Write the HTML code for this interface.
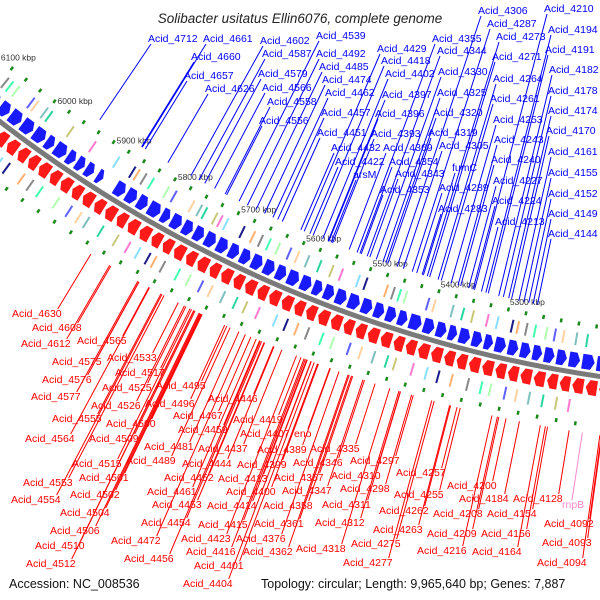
<!DOCTYPE html>
<html><head><meta charset="utf-8"><style>
body{margin:0;background:#fff;}
svg{display:block;font-family:"Liberation Sans",sans-serif;}
</style></head><body>
<svg id="map" width="600" height="600" viewBox="0 0 600 600" xmlns="http://www.w3.org/2000/svg">
<text x="300" y="23" text-anchor="middle" font-size="13.5" font-style="italic" fill="#222">Solibacter usitatus Ellin6076, complete genome</text>
<g id="features"></g>
<g id="lines"></g>
<g id="labels"></g>
<text x="9" y="588" font-size="12.5" fill="#111">Accession: NC_008536</text>
<text x="261" y="588" font-size="12.5" fill="#111">Topology: circular; Length: 9,965,640 bp; Genes: 7,887</text>
</svg>
<script>
const CX=786, CY=-895, R=1285;
const tickKbp=[6100,6000,5900,5800,5700,5600,5500,5400,5300];
const blueGenes=[[6225,6245],[6205,6222],[6185,6202],[6160,6182],[6140,6157],[6118,6137],[6100,6115],[6078,6097],[6060,6075],[6040,6057],[6020,6037],[6000,6017],[5985,5997],[5965,5982],[5950,5962],[5935,5947],[5920,5932],[5905,5914],[5870,5885],[5852,5867],[5835,5849],[5815,5832],[5800,5812],[5782,5797],[5765,5779],[5748,5762],[5730,5745],[5712,5727],[5695,5709],[5678,5692],[5660,5675],[5642,5657],[5625,5639],[5606,5622],[5588,5603],[5572,5585],[5555,5569],[5537,5552],[5518,5534],[5500,5515],[5483,5497],[5466,5480],[5450,5463],[5430,5447],[5412,5427],[5395,5409],[5380,5392],[5362,5377],[5345,5359],[5330,5342],[5312,5327],[5295,5309],[5278,5292],[5262,5275],[5245,5259],[5228,5242],[5210,5225],[5190,5207],[5170,5187]];
const redGenes=[[6225,6245],[6205,6222],[6188,6202],[6168,6185],[6150,6165],[6130,6147],[6112,6127],[6095,6109],[6075,6092],[6058,6072],[6040,6055],[6022,6037],[6005,6019],[5988,6002],[5970,5985],[5953,5967],[5935,5950],[5918,5932],[5900,5915],[5883,5897],[5865,5880],[5848,5862],[5830,5845],[5812,5827],[5795,5809],[5778,5792],[5760,5775],[5743,5757],[5725,5740],[5708,5722],[5690,5705],[5673,5687],[5655,5670],[5638,5652],[5620,5635],[5602,5617],[5585,5599],[5568,5582],[5550,5565],[5532,5547],[5515,5529],[5498,5512],[5480,5495],[5462,5477],[5445,5459],[5428,5442],[5410,5425],[5392,5407],[5375,5389],[5358,5372],[5340,5355],[5322,5337],[5305,5319],[5288,5302],[5270,5285],[5252,5267],[5235,5249],[5218,5232],[5200,5215],[5182,5197],[5165,5179]];
const blueCog=[6205,6190,6172,6160,6148,6130,6118,6090,6082,6071,6045,6038,6022,6014,5978,5941,5902,5876,5869,5858,5846,5822,5810,5782,5770,5762,5746,5738,5729,5704,5688,5676,5664,5650,5633,5621,5606,5588,5570,5556,5531,5520,5490,5480,5471,5462,5430,5421,5395,5380,5366,5345,5331,5310,5302,5290,5278,5262,5250,5238,5220,5205];
const redCog=[6210,6195,6178,6165,6140,6128,6112,6096,6085,6062,6050,6031,6019,5995,5981,5966,5940,5920,5905,5893,5871,5848,5830,5815,5800,5791,5778,5756,5740,5722,5708,5690,5672,5658,5640,5615,5600,5585,5570,5550,5535,5512,5496,5478,5460,5449,5425,5406,5390,5372,5350,5332,5320,5300,5285,5268,5250,5232,5215];
const cogColors=["#7fbfbf","#2ad6a0","#c8c878","#ff7ad0","#88e0ff","#1a1a8a","#ffb070","#888888","#40ffb0","#b0ffb0","#6060ff","#ffd0a0"];
const greenKbp=[6220,6195,6170,6145,6120,6095,6070,6045,6020,5995,5970,5945,5920,5895,5870,5845,5820,5795,5770,5745,5720,5695,5670,5645,5620,5595,5570,5545,5520,5495,5470,5445,5420,5395,5370,5345,5320,5295,5270,5245,5220,5195];
const blueLabels=[
["Acid_4712",148,42],["Acid_4661",203,42],["Acid_4660",191,60],["Acid_4657",184,79],["Acid_4626",205,92],
["Acid_4602",260,44],["Acid_4587",262,57],["Acid_4579",258,77],["Acid_4566",262,91],["Acid_4558",267,105],["Acid_4556",259,124],
["Acid_4539",316,39],["Acid_4492",316,57],["Acid_4485",319,70],["Acid_4474",322,83],["Acid_4462",325,96],["Acid_4457",321,116],["Acid_4451",317,136],["Acid_4432",331,151],["Acid_4422",335,165],["arsM",353,178],
["Acid_4429",377,52],["Acid_4418",381,64],["Acid_4402",385,77],["Acid_4397",382,98],["Acid_4396",375,117],["Acid_4393",371,137],["Acid_4369",383,151],["Acid_4354",389,165],["Acid_4343",395,177],["Acid_4353",380,193],
["Acid_4355",432,42],["Acid_4344",437,54],["Acid_4330",438,75],["Acid_4325",437,96],["Acid_4320",433,116],["Acid_4319",428,136],["Acid_4305",439,149],["fumC",452,171],["Acid_4289",439,191],["Acid_4283",438,212],
["Acid_4306",478,14],["Acid_4287",487,27],["Acid_4273",496,40],["Acid_4271",492,60],["Acid_4264",493,82],["Acid_4261",490,102],["Acid_4253",493,123],["Acid_4243",494,143],["Acid_4240",491,163],["Acid_4227",493,184],["Acid_4224",492,204],["Acid_4213",495,225],
["Acid_4210",544,12],["Acid_4194",548,33],["Acid_4191",545,53],["Acid_4182",549,73],["Acid_4178",548,94],["Acid_4174",548,114],["Acid_4170",546,134],["Acid_4161",548,155],["Acid_4155",548,176],["Acid_4152",548,197],["Acid_4149",548,217],["Acid_4144",548,237]];
const redLabels=[
["Acid_4630",12,317],["Acid_4608",32,331],["Acid_4612",21,347],["Acid_4565",77,344],["Acid_4575",52,365],["Acid_4533",107,361],["Acid_4517",115,376],["Acid_4576",42,383],["Acid_4525",102,391],["Acid_4495",156,389],["Acid_4577",31,400],["Acid_4526",91,409],["Acid_4496",145,407],["Acid_4446",208,402],["Acid_4467",173,419],["Acid_4555",52,422],["Acid_4500",106,427],["Acid_4459",178,433],["Acid_4419",233,423],["Acid_4564",25,442],["Acid_4509",89,442],["Acid_4407",240,437],["Acid_4481",144,450],["Acid_4437",198,452],["Acid_4389",257,453],["Acid_4515",72,467],["Acid_4489",126,464],["Acid_4444",182,467],["Acid_4399",237,468],["Acid_4553",23,486],["Acid_4501",79,481],["Acid_4452",164,481],["Acid_4413",218,482],["Acid_4554",11,503],["Acid_4502",70,498],["Acid_4461",147,495],["Acid_4400",226,495],["Acid_4453",152,508],["Acid_4414",207,509],["Acid_4504",60,516],["Acid_4454",141,526],["Acid_4415",198,528],["Acid_4506",50,534],["Acid_4472",111,544],["Acid_4423",181,542],["Acid_4376",236,542],["Acid_4510",35,549],["Acid_4416",186,555],["Acid_4362",243,555],["Acid_4456",124,562],["Acid_4512",26,567],["Acid_4401",194,569],["Acid_4404",183,587],["Acid_4361",254,527],
["eno",294,437],["Acid_4335",310,452],["Acid_4346",293,466],["Acid_4297",350,464],["Acid_4357",274,481],["Acid_4310",331,479],["Acid_4257",396,476],["Acid_4347",282,494],["Acid_4298",340,492],["Acid_4200",447,489],["Acid_4255",394,498],["Acid_4184",459,502],["Acid_4128",513,502],["Acid_4358",263,509],["Acid_4311",322,508],["Acid_4262",379,514],["Acid_4208",433,517],["Acid_4154",487,517],["Acid_4312",315,526],["Acid_4092",544,527],["Acid_4263",373,533],["Acid_4209",427,537],["Acid_4156",481,537],["Acid_4318",296,552],["Acid_4275",351,547],["Acid_4093",542,546],["Acid_4216",417,554],["Acid_4164",472,555],["Acid_4277",343,566],["Acid_4094",537,566]];
const rnaLabels=[["rnpB",562,508]];

const NS="http://www.w3.org/2000/svg";
function ang(kbp){return (112.3+(kbp-5600)*0.0333)*Math.PI/180;}
function pt(kbp,r){const a=ang(kbp);return [CX+r*Math.cos(a),CY+r*Math.sin(a)];}
// arrow-shaped gene: tip at kbp 'tip' end
function arrowPath(kLow,kHigh,r1,r2,pointLow){
  const rm=(r1+r2)/2, head=Math.min(5,(kHigh-kLow)*0.5);
  let pts;
  if(pointLow){
    pts=[pt(kHigh,r1),pt(kLow+head,r1),pt(kLow,rm),pt(kLow+head,r2),pt(kHigh,r2)];
  } else {
    pts=[pt(kLow,r1),pt(kHigh-head,r1),pt(kHigh,rm),pt(kHigh-head,r2),pt(kLow,r2)];
  }
  return 'M'+pts.map(p=>p[0].toFixed(1)+','+p[1].toFixed(1)).join(' L')+' Z';
}
function mk(tag,attrs,parent){const e=document.createElementNS(NS,tag);for(const k in attrs)e.setAttribute(k,attrs[k]);parent.appendChild(e);return e;}
const F=document.getElementById('features'),L=document.getElementById('lines'),T=document.getElementById('labels');
let bb=mk('path',{d:(()=>{const a=pt(6300,R),b=pt(5100,R);return `M${a[0]},${a[1]} A${R},${R} 0 0 0 ${b[0]},${b[1]}`})(),stroke:'#7a7a7a','stroke-width':5,fill:'none'},F);


blueGenes.forEach(g=>{
  const p=mk('path',{d:arrowPath(g[0],g[1],R-20,R-5,true),fill:'#1a1aff'},F);
  
  
});
redGenes.forEach(g=>{
  const p=mk('path',{d:arrowPath(g[0],g[1],R+5,R+20,false),fill:'#ff1a1a'},F);
  
  
});
blueCog.forEach((k,i)=>{
  const a=pt(k,R-40),b=pt(k,R-27);
  const l=mk('line',{x1:a[0],y1:a[1],x2:b[0],y2:b[1],stroke:cogColors[i%cogColors.length],'stroke-width':2},F);
  
  
});
redCog.forEach((k,i)=>{
  const a=pt(k,R+27),b=pt(k,R+40);
  const l=mk('line',{x1:a[0],y1:a[1],x2:b[0],y2:b[1],stroke:cogColors[(i+5)%cogColors.length],'stroke-width':2},F);
  
  
});
greenKbp.forEach((k,i)=>{
  [[R-51,R-47],[R+48,R+52]].forEach(rr=>{
    const kk=k+(rr[0]>R?8:0);
    const a=pt(kk,rr[0]),b=pt(kk,rr[1]);
    const l=mk('line',{x1:a[0],y1:a[1],x2:b[0],y2:b[1],stroke:'#1a8a1a','stroke-width':2.5},F);
    
    
  });
});
tickKbp.forEach(k=>{
  const p=pt(k,R-60);
  const t=mk('text',{x:p[0]-15,y:p[1]+3,'font-size':8.5,fill:'#333'},F);
  t.textContent=k+' kbp';
  
  
});
function radial(x,y,rt){const dx=x-CX,dy=y-CY,d=Math.hypot(dx,dy);return [CX+dx/d*rt,CY+dy/d*rt];}
blueLabels.forEach(l=>{
  const ax=l[1]+3,ay=l[2]+2;const e=radial(ax,ay,R-60);
  const ln=mk('line',{x1:ax,y1:ay,x2:e[0],y2:e[1],stroke:'#0000ff','stroke-width':1},L);
  
  
  const t=mk('text',{x:l[1],y:l[2],'font-size':10.5,fill:'#0000ff'},T);
  t.textContent=l[0];
  
  
});
redLabels.forEach(l=>{
  const w=l[0].length*5.3;const ax=l[1]+w-2,ay=l[2]-8;const e=radial(ax,ay,R+58);
  const ln=mk('line',{x1:ax,y1:ay,x2:e[0],y2:e[1],stroke:'#ff0000','stroke-width':1},L);
  
  
  const t=mk('text',{x:l[1],y:l[2],'font-size':10.5,fill:'#ff0000'},T);
  t.textContent=l[0];
  
  
});
rnaLabels.forEach(l=>{
  const ax=l[1]+10,ay=l[2]-8;const e=radial(ax,ay,R+58);
  const ln=mk('line',{x1:ax,y1:ay,x2:e[0],y2:e[1],stroke:'#ff88cc','stroke-width':1},L);
  
  
  const t=mk('text',{x:l[1],y:l[2],'font-size':10.5,fill:'#ff88cc'},T);
  t.textContent=l[0];
  
  
});
</script>
</body></html>
